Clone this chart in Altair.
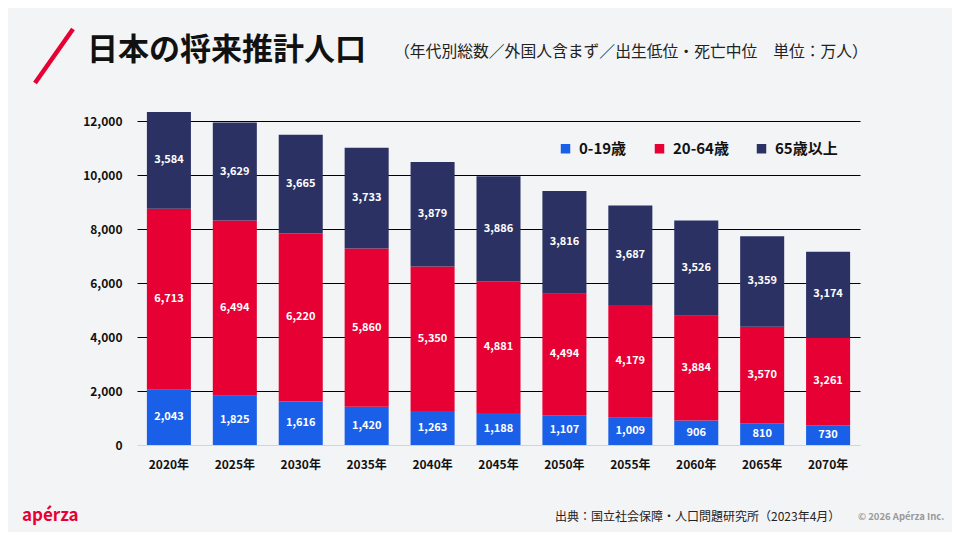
import altair as alt
import pandas as pd

years = ["2020年", "2025年", "2030年", "2035年", "2040年", "2045年", "2050年", "2055年", "2060年", "2065年", "2070年"]
groups = ["0-19歳", "20-64歳", "65歳以上"]
young = [2043, 1825, 1616, 1420, 1263, 1188, 1107, 1009, 906, 810, 730]
working = [6713, 6494, 6220, 5860, 5350, 4881, 4494, 4179, 3884, 3570, 3261]
elderly = [3584, 3629, 3665, 3733, 3879, 3886, 3816, 3687, 3526, 3359, 3174]
colors = ["#1a5fe8", "#e60033", "#2c3163"]
y_ticks = [0, 2000, 4000, 6000, 8000, 10000, 12000]

FONT = "Noto Sans CJK JP"

rows = []
for series_i, (g, vals) in enumerate(zip(groups, [young, working, elderly])):
    for yr, v in zip(years, vals):
        rows.append({"year": yr, "group": g, "value": v, "order": series_i})
df = pd.DataFrame(rows)

W, H = 723, 340

base = alt.Chart(df).transform_stack(
    stack="value", groupby=["year"], as_=["y0", "y1"],
    sort=[alt.SortField("order", order="ascending")]
).transform_calculate(mid="(datum.y0 + datum.y1) / 2")

xenc = alt.X("year:N", sort=years, title=None,
             scale=alt.Scale(paddingInner=0.332, paddingOuter=0.15),
             axis=alt.Axis(labelAngle=0, labelFont=FONT, labelFontSize=12, labelFontWeight="bold",
                           labelColor="#111", labelPadding=14, ticks=False, domain=False))
yscale = alt.Scale(domain=[0, 12600], nice=False)

bars = base.mark_bar().encode(
    x=xenc,
    y=alt.Y("y0:Q", scale=yscale, title=None,
            axis=alt.Axis(values=y_ticks, format=",d", labelFont=FONT, labelFontSize=12,
                          labelFontWeight="bold", labelColor="#111", labelPadding=15,
                          ticks=False, domain=False, grid=True,
                          gridColor={"condition": {"test": "datum.value === 0", "value": "#d4d4d4"}, "value": "#000000"},
                          gridWidth=1)),
    y2="y1:Q",
    color=alt.Color("group:N", sort=groups,
                    scale=alt.Scale(domain=groups, range=colors),
                    legend=alt.Legend(title=None, orient="none", direction="horizontal",
                                      legendX=421, legendY=36, symbolType="square",
                                      symbolSize=90, symbolStrokeWidth=0, symbolOpacity=1,
                                      labelFont=FONT, labelFontSize=15, labelFontWeight="bold",
                                      labelColor="#111", columnPadding=25, labelOffset=6,
                                      padding=0)),
    order=alt.Order("order:Q"),
)

labels = base.mark_text(color="white", font=FONT, fontSize=11, fontWeight="bold",
                        baseline="middle").encode(
    x=alt.X("year:N", sort=years),
    y=alt.Y("mid:Q", scale=yscale),
    text=alt.Text("value:Q", format=",d"),
)

one = pd.DataFrame({"k": [0]})
title = alt.Chart(one).mark_text(text="日本の将来推計人口", font=FONT, fontSize=31, fontWeight="bold",
                                 color="#111", align="left", baseline="middle").encode(
    x=alt.value(-50), y=alt.value(-54))
subtitle = alt.Chart(one).mark_text(text="（年代別総数／外国人含まず／出生低位・死亡中位　単位：万人）",
                                    font=FONT, fontSize=15.8, color="#222", align="left",
                                    baseline="middle").encode(x=alt.value(257), y=alt.value(-53))
slash = alt.Chart(one).mark_rule(color="#e60033", strokeWidth=4.5).encode(
    x=alt.value(-102), x2=alt.value(-64), y=alt.value(-22), y2=alt.value(-76))
source = alt.Chart(one).mark_text(text="出典：国立社会保障・人口問題研究所（2023年4月）", font=FONT,
                                  fontSize=12, color="#222", align="left", baseline="middle").encode(
    x=alt.value(418), y=alt.value(412))
copy = alt.Chart(one).mark_text(text="© 2026 Apérza Inc.", font=FONT, fontSize=9.5, fontWeight="bold",
                                color="#999", align="left", baseline="middle").encode(
    x=alt.value(721), y=alt.value(412))
logo = alt.Chart(one).mark_text(text="apérza", font=FONT, fontSize=17, fontWeight="bold",
                                color="#e60033", align="left", baseline="middle").encode(
    x=alt.value(-115), y=alt.value(411))

chart = alt.layer(bars, labels, title, subtitle, slash, source, copy, logo).properties(
    width=W, height=H,
    autosize=alt.AutoSizeParams(type="none"),
    padding={"left": 129, "top": 97, "right": 92, "bottom": 87},
    background="#f3f4f6",
).configure_view(stroke=None)

chart.save("out.html", embed_options={"renderer": "svg", "actions": False})
